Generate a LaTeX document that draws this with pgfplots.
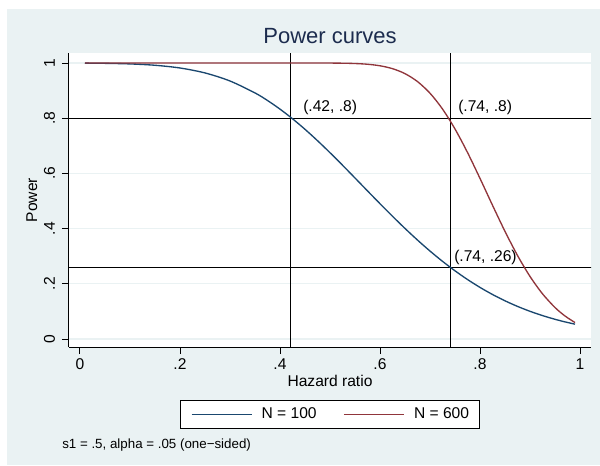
\documentclass[border=0pt]{standalone}
\usepackage{fontspec}
\setmainfont{Liberation Sans}
\usepackage{pgfplots}
\pgfplotsset{compat=1.18}
\definecolor{bgblue}{HTML}{EAF2F3}
\definecolor{snavy}{HTML}{1A476F}
\definecolor{smaroon}{HTML}{90353B}
\definecolor{titlec}{HTML}{1C2C4E}
\begin{document}
\begin{tikzpicture}
\begin{scope}[x=0.75pt,y=-0.75pt,shift={(-69,-347)}]
  \fill[white] (0,0) rectangle (600,465);
  \fill[bgblue] (7,9) rectangle (600,465);
\end{scope}
\begin{axis}[
  at={(0,0)}, anchor=south west,
  scale only axis, width=391.5pt, height=220.5pt,
  xmin=-0.022, xmax=1.022, ymin=-0.02899, ymax=1.03623,
  axis background/.style={fill=white},
  axis x line*=bottom, axis y line*=left,
  axis line style={-, black, line width=0.75pt},
  xtick={0,0.2,0.4,0.6,0.8,1}, xticklabels={0,.2,.4,.6,.8,1},
  ytick={0,0.2,0.4,0.6,0.8,1}, yticklabels={0,.2,.4,.6,.8,1},
  tick align=outside, major tick length=5.25pt,
  tick style={black, line width=0.75pt},
  ymajorgrids, major grid style={bgblue, line width=1pt},
  /pgf/number format/assume math mode=true,
  tick label style={font=\fontsize{11.7}{14}\selectfont},
  xticklabel style={anchor=base, yshift=-11.25pt},
  yticklabel style={xshift=-5.25pt, rotate=90, anchor=base},
  xlabel={Hazard ratio}, ylabel={Power},
  label style={font=\fontsize{11.7}{14}\selectfont},
  xlabel style={at={(axis description cs:0.5,-0.13265)}, anchor=base},
  ylabel style={at={(axis description cs:-0.0613,0.5)}, anchor=base},
  legend columns=2,
  legend image code/.code={\draw[#1] (0pt,0pt) -- (45pt,0pt);},
  legend style={at={(axis description cs:0.5,-0.2296)}, anchor=center,
    draw=black, line width=0.75pt, fill=white,
    font=\fontsize{11.7}{14}\selectfont,
    inner xsep=7.5pt, inner ysep=3.4pt,
    nodes={inner xsep=0pt},
    /tikz/every odd column/.append style={column sep=7pt},
    /tikz/every even column/.append style={column sep=20pt}},
  legend cell align=left,
]
\addplot[black, line width=0.75pt, forget plot] coordinates {(0.42,-0.1) (0.42,1.1)};
\addplot[black, line width=0.75pt, forget plot] coordinates {(0.74,-0.1) (0.74,1.1)};
\addplot[black, line width=0.75pt, forget plot] coordinates {(-0.1,0.8) (1.1,0.8)};
\addplot[black, line width=0.75pt, forget plot] coordinates {(-0.1,0.26) (1.1,0.26)};
\addplot[snavy, line width=1pt, smooth] coordinates {
(0.01,0.9995) (0.05,0.99878) (0.1,0.99665) (0.15,0.99178) (0.2,0.98192)
(0.25,0.96402) (0.3,0.93481) (0.35,0.89153) (0.375,0.86413) (0.4,0.83288)
(0.425,0.7980) (0.45,0.75975) (0.475,0.71855) (0.5,0.67501) (0.525,0.62973)
(0.55,0.58336) (0.575,0.53664) (0.6,0.49019) (0.625,0.44466) (0.65,0.40060)
(0.675,0.35846) (0.7,0.31864) (0.725,0.28145) (0.75,0.24705) (0.775,0.21555)
(0.8,0.18697) (0.825,0.16128) (0.85,0.13838) (0.875,0.11813) (0.9,0.10034)
(0.925,0.08484) (0.95,0.07142) (0.97,0.06204) (0.99,0.05375)};
\addlegendentry{N = 100}
\addplot[smaroon, line width=1pt, smooth] coordinates {
(0.01,1) (0.1,1) (0.2,1) (0.3,1) (0.4,1) (0.45,0.99998) (0.5,0.99976)
(0.525,0.99930) (0.55,0.99813) (0.575,0.99547) (0.6,0.98994) (0.625,0.97950)
(0.65,0.96145) (0.675,0.93271) (0.7,0.89056) (0.725,0.83328) (0.75,0.76097)
(0.775,0.67577) (0.8,0.58184) (0.825,0.48460) (0.85,0.38989) (0.875,0.30268)
(0.9,0.22666) (0.925,0.16374) (0.95,0.11414) (0.97,0.08339) (0.99,0.05961)};
\addlegendentry{N = 600}
\node[anchor=base west, inner sep=0pt, font=\fontsize{11.7}{14}\selectfont] at (axis cs:0.446,0.826) {(.42, .8)};
\node[anchor=base west, inner sep=0pt, font=\fontsize{11.7}{14}\selectfont] at (axis cs:0.756,0.826) {(.74, .8)};
\node[anchor=base west, inner sep=0pt, font=\fontsize{11.7}{14}\selectfont] at (axis cs:0.748,0.2826) {(.74, .26)};
\end{axis}
\begin{scope}[x=0.75pt,y=-0.75pt,shift={(-69,-347)}]
  \node[anchor=base, inner sep=0pt, text=titlec, font=\fontsize{16.5}{20}\selectfont] at (330,43) {Power curves};
  \node[anchor=base west, inner sep=0pt, font=\fontsize{10}{12}\selectfont] at (62,448) {s1 = .5, alpha = .05 (one−sided)};
\end{scope}
\end{tikzpicture}
\end{document}
